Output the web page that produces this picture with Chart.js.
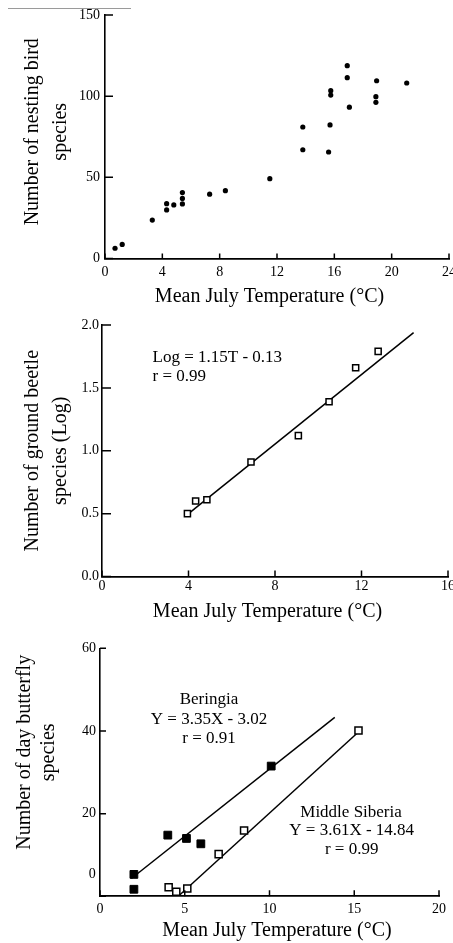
<!DOCTYPE html>
<html>
<head>
<meta charset="utf-8">
<script src="https://cdn.jsdelivr.net/npm/chart.js@4.4.0/dist/chart.umd.min.js"></script>
<style>
  html, body { margin: 0; padding: 0; background: #fff; width: 453px; height: 943px; overflow: hidden; position: relative; }
  canvas { position: absolute; left: 0; }
  #c1 { top: 0; }
  #c2 { top: 300px; }
  #c3 { top: 620px; }
  .cut { position: absolute; left: 8px; top: 8px; width: 123px; border-top: 1px solid #9a9a9a; }
</style>
</head>
<body>
<div class="cut"></div>
<canvas id="c1" width="480" height="310"></canvas>
<canvas id="c2" width="480" height="330"></canvas>
<canvas id="c3" width="480" height="323"></canvas>
<script>
// --- nesting birds vs July temperature
const birdTemp = [0.7, 1.2, 3.3, 4.3, 4.3, 4.8, 5.4, 5.4, 5.4, 7.3, 8.4, 11.5, 13.8, 13.8, 15.6, 15.7, 15.75, 15.75, 16.9, 16.9, 17.05, 18.95, 18.9, 18.9, 21.05];
const birdSpecies = [6.3, 8.7, 23.7, 29.9, 33.8, 33.0, 33.6, 37.0, 40.6, 39.6, 41.8, 49.2, 81.0, 67.0, 65.6, 82.3, 103.4, 100.7, 118.8, 111.4, 93.2, 109.5, 99.7, 96.2, 108.1];

// --- ground beetles (log) vs July temperature
const beetleTemp = [3.95, 4.33, 4.85, 6.89, 9.08, 10.5, 11.73, 12.77];
const beetleLog = [0.5, 0.6, 0.61, 0.91, 1.12, 1.39, 1.66, 1.79];
const beetleFitTemp = [3.93, 14.41];
const beetleFitLog = [0.49, 1.94];

// --- day butterflies vs July temperature
const beringiaTemp = [2.0, 2.0, 4.0, 5.1, 5.95, 10.1];
const beringiaSpecies = [5.3, 1.7, 14.8, 14.0, 12.7, 31.5];
const beringiaFitTemp = [1.85, 13.85];
const beringiaFitSpecies = [4.3, 43.3];
const siberiaTemp = [4.05, 4.5, 5.15, 7.0, 8.5, 15.25];
const siberiaSpecies = [2.2, 1.1, 1.9, 10.2, 15.9, 40.1];
const siberiaFitTemp = [4.7, 15.15];
const siberiaFitSpecies = [0.3, 39.4];

// axis titles (spaces nudge the centring to where the scan has them)
const xTitle1 = 'Mean July Temperature (°C)   ';
const xTitle2 = 'Mean July Temperature (°C)   ';
const xTitle3 = '   Mean July Temperature (°C)';
const yTitle1 = ['  Number of nesting bird', '  species'];
const yTitle2 = ['Number of ground beetle', 'species (Log)'];
const yTitle3 = ['        Number of day butterfly', '        species'];

const INK = '#000';
const SERIF = '"Liberation Serif", "Times New Roman", serif';
const tickFont = { family: SERIF, size: 14, lineHeight: 1.2 };

const pts = (xs, ys) => xs.map((v, i) => ({ x: v, y: ys[i] }));

// short tick marks pointing into the plot, like the original figure
const inTicks = {
  id: 'inTicks',
  afterDraw(chart, args, opts) {
    const { ctx, chartArea, scales: { x, y } } = chart;
    ctx.save();
    ctx.strokeStyle = INK;
    ctx.lineWidth = 1.5;
    ctx.beginPath();
    x.ticks.forEach(t => {
      const px = x.getPixelForValue(t.value);
      ctx.moveTo(px, chartArea.bottom);
      ctx.lineTo(px, chartArea.bottom - opts.x);
    });
    y.ticks.forEach(t => {
      const py = y.getPixelForValue(t.value);
      ctx.moveTo(chartArea.left, py);
      ctx.lineTo(chartArea.left + opts.y, py);
    });
    ctx.stroke();
    ctx.restore();
  }
};

// text notes placed in data coordinates
const notes = {
  id: 'notes',
  afterDatasetsDraw(chart, args, opts) {
    const { ctx, scales: { x, y } } = chart;
    ctx.save();
    ctx.fillStyle = INK;
    ctx.textBaseline = 'middle';
    (opts.items || []).forEach(n => {
      ctx.font = n.font || ('17px ' + SERIF);
      ctx.textAlign = n.align || 'center';
      ctx.fillText(n.text, x.getPixelForValue(n.x), y.getPixelForValue(n.y));
    });
    ctx.restore();
  }
};

function axisX(max, step, title, tickPad, titlePad, height) {
  return {
    type: 'linear', min: 0, max,
    ticks: { stepSize: step, padding: tickPad, color: INK, font: tickFont, maxRotation: 0, autoSkip: false },
    grid: { display: false, drawTicks: false },
    border: { display: true, color: INK, width: 1.8 },
    title: { display: true, text: title, color: INK, font: { family: SERIF, size: 20, lineHeight: 1.2 }, padding: { top: 0, bottom: titlePad } },
    afterFit(s) { s.height = height; }
  };
}

function axisY(max, step, title, tickPad, titlePad, lh, width, fmt) {
  return {
    type: 'linear', min: 0, max,
    ticks: { stepSize: step, padding: tickPad, color: INK, font: tickFont, callback: fmt },
    grid: { display: false, drawTicks: false },
    border: { display: true, color: INK, width: 1.6 },
    title: { display: true, text: title, color: INK, font: { family: SERIF, size: 20, lineHeight: lh }, padding: { top: titlePad, bottom: 0 } },
    afterFit(s) { s.width = width; }
  };
}

const common = {
  responsive: false,
  animation: false,
  events: [],
  plugins: { legend: { display: false }, tooltip: { enabled: false } }
};

// chart 1: birds
new Chart(document.getElementById('c1'), {
  type: 'scatter',
  data: {
    datasets: [{
      data: pts(birdTemp, birdSpecies),
      pointStyle: 'circle', pointRadius: 2.6, backgroundColor: INK, borderWidth: 0, clip: false
    }]
  },
  options: {
    ...common,
    layout: { padding: { left: 0, top: 15, right: 31, bottom: 0 } },
    scales: {
      x: axisX(24, 4, xTitle1, 5, 1, 51.5),
      y: axisY(150, 50, yTitle1, 5, 19.4, 1.38, 105)
    },
    plugins: { ...common.plugins, inTicks: { x: 5, y: 8 } }
  },
  plugins: [inTicks]
});

// chart 2: beetles
new Chart(document.getElementById('c2'), {
  type: 'scatter',
  data: {
    datasets: [{
      data: pts(beetleTemp, beetleLog), order: 0,
      pointStyle: 'rect', pointRadius: 4.3, backgroundColor: '#fff', borderColor: INK, borderWidth: 1.5, clip: false
    }, {
      data: pts(beetleFitTemp, beetleFitLog), order: 1,
      showLine: true, pointRadius: 0, borderColor: INK, borderWidth: 1.5, clip: false
    }]
  },
  options: {
    ...common,
    layout: { padding: { left: 0, top: 25, right: 32, bottom: 0 } },
    scales: {
      x: axisX(16, 4, xTitle2, 1.5, 6.3, 53.5),
      y: axisY(2, 0.5, yTitle2, 3, 19.4, 1.38, 102, v => v.toFixed(1))
    },
    plugins: {
      ...common.plugins,
      inTicks: { x: 6, y: 9 },
      notes: { items: [
        { text: 'Log = 1.15T - 0.13', x: 2.34, y: 1.745, align: 'left' },
        { text: 'r = 0.99', x: 2.34, y: 1.594, align: 'left' }
      ] }
    }
  },
  plugins: [inTicks, notes]
});

// chart 3: butterflies
new Chart(document.getElementById('c3'), {
  type: 'scatter',
  data: {
    datasets: [{
      data: pts(beringiaTemp, beringiaSpecies), order: 0,
      pointStyle: 'rect', pointRadius: 5.5, backgroundColor: INK, borderColor: INK, borderWidth: 1, clip: false
    }, {
      data: pts(siberiaTemp, siberiaSpecies), order: 0,
      pointStyle: 'rect', pointRadius: 5, backgroundColor: '#fff', borderColor: INK, borderWidth: 1.5, clip: false
    }, {
      data: pts(beringiaFitTemp, beringiaFitSpecies), order: 1,
      showLine: true, pointRadius: 0, borderColor: INK, borderWidth: 1.5, clip: false
    }, {
      data: pts(siberiaFitTemp, siberiaFitSpecies), order: 1,
      showLine: true, pointRadius: 0, borderColor: INK, borderWidth: 1.5, clip: false
    }]
  },
  options: {
    ...common,
    layout: { padding: { left: 0, top: 28.3, right: 41, bottom: 0 } },
    scales: {
      x: axisX(20, 5, xTitle3, 4.6, 0, 46.7),
      // the scan prints its "0" label a little above the axis, drawn as a note below
      y: axisY(60, 20, yTitle3, 4, 13, 1.2, 100, v => v === 0 ? '' : v)
    },
    plugins: {
      ...common.plugins,
      inTicks: { x: 6, y: 6 },
      notes: { items: [
        { text: 'Beringia', x: 6.43, y: 47.5 },
        { text: 'Y = 3.35X - 3.02', x: 6.43, y: 42.8 },
        { text: 'r = 0.91', x: 6.43, y: 38.2 },
        { text: 'Middle Siberia', x: 14.81, y: 20.2 },
        { text: 'Y = 3.61X - 14.84', x: 14.85, y: 15.8 },
        { text: 'r = 0.99', x: 14.85, y: 11.2 },
        { text: '0', x: -0.25, y: 5.2, align: 'right', font: '14px ' + SERIF }
      ] }
    }
  },
  plugins: [inTicks, notes]
});
</script>
</body>
</html>
